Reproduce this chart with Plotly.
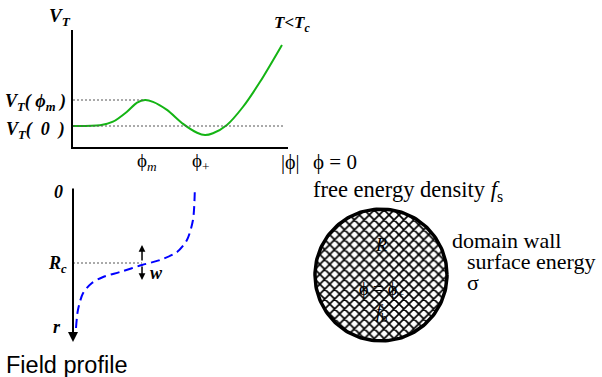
import numpy as np
import plotly.graph_objects as go

W, H = 602, 377

# ---- data ----
# potential V_T(|phi|) (phi in units of axis length, V in units of V_T(phi_m)-V_T(0))
phi_curve = [0, 0.126, 0.186, 0.251, 0.298, 0.335, 0.372, 0.437, 0.512, 0.577,
             0.614, 0.651, 0.716, 0.791, 0.870, 0.972]
V_curve = [0, 0.03, 0.165, 0.55, 0.90, 1.0, 0.93, 0.62, 0.08, -0.26,
           -0.35, -0.28, 0.04, 0.74, 1.70, 3.12]
phi_m, phi_plus, phi_end = 0.335, 0.614, 0.986
V_0, V_m = 0.0, 1.0

# field profile phi(r) (r in units of R_c)
prof_phi = [0.014, 0.023, 0.047, 0.088, 0.140, 0.219, 0.321, 0.405, 0.484, 0.530, 0.558, 0.567]
prof_r = [1.855, 1.618, 1.395, 1.263, 1.184, 1.118, 1.026, 0.961, 0.855, 0.697, 0.434, 0.0]
R_c = 1.0
r_max = 2.04
w_phi = 0.321
w_up = [0.987, 0.763]
w_down = [1.026, 1.224]

# bubble
bubble_R = 1.0
theta = np.linspace(0, 2 * np.pi, 181)
circ_x = bubble_R * np.cos(theta)
circ_y = bubble_R * np.sin(theta)

SERIF = "Liberation Serif"
SANS = "Liberation Sans"
PHI = "\u03d5"


def px(x):
    return x / W


def py(y):
    return 1 - y / H


fig = go.Figure()

# potential curve
fig.add_trace(go.Scatter(x=phi_curve, y=V_curve, mode="lines",
                         line=dict(color="rgb(20,180,20)", width=2, shape="spline", smoothing=0.8),
                         xaxis="x", yaxis="y", showlegend=False, hoverinfo="skip"))
fig.add_trace(go.Scatter(x=[0, phi_m], y=[V_m, V_m], mode="lines",
                         line=dict(color="#555", width=1, dash="2px,2px"),
                         xaxis="x", yaxis="y", showlegend=False, hoverinfo="skip"))
fig.add_trace(go.Scatter(x=[0, phi_end], y=[V_0, V_0], mode="lines",
                         line=dict(color="#555", width=1, dash="2px,2px"),
                         xaxis="x", yaxis="y", showlegend=False, hoverinfo="skip"))

# profile
fig.add_trace(go.Scatter(x=[0, w_phi], y=[R_c, R_c], mode="lines",
                         line=dict(color="#555", width=1, dash="2px,2px"),
                         xaxis="x2", yaxis="y2", showlegend=False, hoverinfo="skip"))
fig.add_trace(go.Scatter(x=prof_phi, y=prof_r, mode="lines",
                         line=dict(color="rgb(0,0,255)", width=2, dash="9px,5px", shape="spline", smoothing=0.8),
                         xaxis="x2", yaxis="y2", showlegend=False, hoverinfo="skip"))

# bubble
fig.add_trace(go.Scatter(x=circ_x, y=circ_y, mode="lines", fill="toself",
                         fillcolor="white",
                         fillpattern=dict(shape="x", size=7, solidity=0.42,
                                          fgcolor="black", bgcolor="white", fgopacity=1),
                         line=dict(color="black", width=3.5),
                         xaxis="x3", yaxis="y3", showlegend=False, hoverinfo="skip"))

ann = []
# axis arrow for r
ann.append(dict(x=0, y=r_max, ax=0, ay=0, xref="x2", yref="y2", axref="x2", ayref="y2",
                text="", showarrow=True, arrowhead=2, arrowsize=1, arrowwidth=2,
                arrowcolor="black", standoff=0, startstandoff=0))
# w arrows
for tail, tip in (w_up, w_down):
    ann.append(dict(x=w_phi, y=tip, ax=w_phi, ay=tail, xref="x2", yref="y2", axref="x2", ayref="y2",
                    text="", showarrow=True, arrowhead=2, arrowsize=0.9, arrowwidth=1.5,
                    arrowcolor="black", standoff=0, startstandoff=0))


def t(x, y, text, size, family=SERIF, xanchor="center", yanchor="middle", xref="paper", yref="paper"):
    ann.append(dict(x=x, y=y, text=text, xref=xref, yref=yref, showarrow=False,
                    xanchor=xanchor, yanchor=yanchor,
                    font=dict(family=family, size=size, color="black")))


# top panel labels
t(px(60), py(17), "<b><i>V<sub>T</sub></i></b>", 19)
t(px(68), py(103), f"<b><i>V<sub>T</sub>( {PHI}<sub>m</sub> )</i></b>", 18, xanchor="right")
t(px(67), py(130), "<b><i>V<sub>T</sub>(  0  )</i></b>", 18, xanchor="right")
t(px(272), py(24), "<b><i>T&lt;T<sub>c</sub></i></b>", 17, xanchor="left")
t(phi_m + 0.01, py(162), f"{PHI}<sub><i>m</i></sub>", 19, xref="x")
t(phi_plus - 0.018, py(162), f"{PHI}<sub>+</sub>", 19, xref="x")
t(px(290), py(162), f"|{PHI}|", 20)
t(px(311), py(162), f"{PHI} = 0", 21, xanchor="left")

# profile labels
t(px(58), py(192), "<b><i>0</i></b>", 18)
t(px(57), py(264), "<b><i>R<sub>c</sub></i></b>", 18)
t(px(57), py(327), "<b><i>r</i></b>", 18)
t(px(156), py(273), "<b><i>w</i></b>", 18)
t(px(4), py(365), "Field profile", 23.5, family=SANS, xanchor="left")

# bubble labels
t(px(311), py(191), "free energy density <i>f</i><sub>s</sub>", 22.5, xanchor="left")
t(px(450), py(240), "domain wall", 22, xanchor="left")
t(px(465), py(261), "surface energy", 22, xanchor="left")
t(px(465), py(282), "\u03c3", 22, xanchor="left")
t(0, 0.45, "<i>R</i>", 18, xref="x3", yref="y3")
t(0, -0.23, f"{PHI} = {PHI}<sub>+</sub>", 18, xref="x3", yref="y3")
t(0, -0.58, "<i>f</i><sub>b</sub>", 18, xref="x3", yref="y3")

hidden = dict(visible=False, showgrid=False, zeroline=False, fixedrange=True)

fig.update_layout(
    width=W, height=H, margin=dict(l=0, r=0, t=0, b=0),
    paper_bgcolor="white", plot_bgcolor="rgba(0,0,0,0)",
    showlegend=False,
    xaxis=dict(domain=[px(73), px(288)], range=[0, 1], showline=True, linecolor="black",
               linewidth=2, showgrid=False, zeroline=False, showticklabels=False, ticks="",
               anchor="y", fixedrange=True),
    yaxis=dict(domain=[py(147), py(30)], range=[-21 / 26, 96 / 26], showline=True, linecolor="black",
               linewidth=2, showgrid=False, zeroline=False, showticklabels=False, ticks="",
               anchor="x", fixedrange=True),
    xaxis2=dict(domain=[px(73), px(288)], range=[0, 1], anchor="y2", **hidden),
    yaxis2=dict(domain=[py(345), py(185)], range=[158 / 76, -2 / 76], anchor="x2", **hidden),
    xaxis3=dict(domain=[px(300), px(462)], range=[-1.227, 1.227], anchor="y3", **hidden),
    yaxis3=dict(domain=[py(345), py(205)], range=[-1.061, 1.061], anchor="x3", **hidden),
    annotations=ann,
)

fig.write_html("out.html", config={"displayModeBar": False, "staticPlot": True},
               post_script="document.body.style.margin='0px';document.body.style.padding='0px';"
                           "document.body.style.overflow='hidden';")
